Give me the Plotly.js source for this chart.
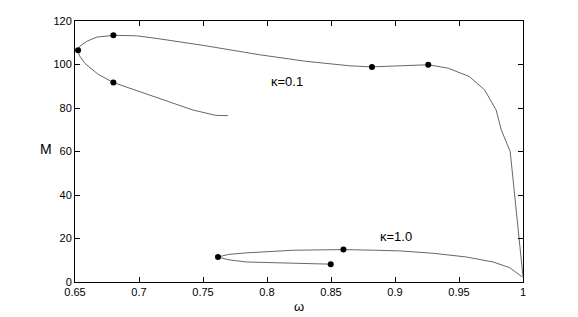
<!DOCTYPE html>
<html><head><meta charset="utf-8">
<script src="https://cdn.plot.ly/plotly-3.0.1.min.js"></script>
<style>html,body{margin:0;padding:0;background:#fff}</style>
</head><body><div id="chart" style="width:578px;height:317px"></div>
<script>
// kappa = 0.1 curve
var k01_w = [0.7695, 0.760, 0.742, 0.716, 0.695, 0.680, 0.668, 0.6576, 0.6535, 0.6524, 0.654, 0.659, 0.667, 0.680, 0.698, 0.716, 0.750, 0.794, 0.830, 0.8646, 0.882, 0.905, 0.926, 0.9415, 0.958, 0.970, 0.979, 0.983, 0.990, 1.000];
var k01_M = [76.5, 76.6, 79.1, 84.5, 88.5, 91.7, 95.5, 100.6, 104.0, 106.5, 108.5, 110.6, 112.6, 113.4, 113.2, 111.8, 108.8, 104.5, 101.5, 99.4, 98.9, 99.3, 99.9, 98.3, 94.5, 88.3, 79.1, 70.0, 60.0, 2.5];
var k01_dot_w = [0.6524, 0.680, 0.680, 0.882, 0.926];
var k01_dot_M = [106.5, 113.4, 91.7, 98.9, 99.9];
// kappa = 1.0 curve
var k10_w = [0.8498, 0.820, 0.784, 0.770, 0.7617, 0.770, 0.784, 0.820, 0.8597, 0.885, 0.9037, 0.930, 0.9558, 0.9766, 0.9896, 0.9995];
var k10_M = [8.2, 8.5, 9.2, 10.2, 11.5, 12.7, 13.4, 14.6, 14.9, 14.6, 14.3, 13.2, 11.5, 9.2, 6.6, 2.3];
var k10_dot_w = [0.7617, 0.8597, 0.8498];
var k10_dot_M = [11.5, 14.9, 8.2];
// ticks
var xTicks = [0.65, 0.7, 0.75, 0.8, 0.85, 0.9, 0.95, 1];
var xTickText = ["0.65", "0.7", "0.75", "0.8", "0.85", "0.9", "0.95", "1"];
var yTicks = [0, 20, 40, 60, 80, 100, 120];
var curveLabels = ["κ=0.1", "κ=1.0"];
var labelW = [0.8156, 0.9005];
var labelM = [92.1, 20.7];

var lineStyle = {color: '#555', width: 0.9};
var mk = {color: '#000', size: 6};
var data = [
  {x: k01_w, y: k01_M, mode: 'lines', line: lineStyle, hoverinfo: 'none'},
  {x: k10_w, y: k10_M, mode: 'lines', line: lineStyle, hoverinfo: 'none'},
  {x: k01_dot_w, y: k01_dot_M, mode: 'markers', marker: mk, hoverinfo: 'none'},
  {x: k10_dot_w, y: k10_dot_M, mode: 'markers', marker: mk, hoverinfo: 'none'}
];
var fam = 'Liberation Sans, Arial, sans-serif';
var font = {family: fam, size: 11, color: '#000'};
var annotations = curveLabels.map(function(t, i){
  return {x: labelW[i], y: labelM[i], xref: 'x', yref: 'y', text: t, showarrow: false, font: {family: fam, size: 13, color: '#000'}};
});
annotations.push({x: (46 - 75) / 448, y: (282 - 149) / 261, xref: 'paper', yref: 'paper', xanchor: 'center', yanchor: 'middle',
                  text: 'M', showarrow: false, font: {family: fam, size: 14, color: '#000'}});
var layout = {
  width: 578, height: 317,
  margin: {l: 75, r: 55, t: 21, b: 35},
  paper_bgcolor: '#fff', plot_bgcolor: '#fff',
  showlegend: false,
  font: font,
  xaxis: {range: [0.65, 1], tickvals: xTicks, ticktext: xTickText, ticks: 'inside', ticklen: 5, tickcolor: '#000',
          showline: true, linecolor: '#000', linewidth: 1, mirror: 'ticks', showgrid: false, zeroline: false,
          title: {text: 'ω', font: {family: fam, size: 13, color: '#000'}, standoff: 4}},
  yaxis: {range: [0, 120], tickvals: yTicks, ticks: 'inside', ticklen: 5, tickcolor: '#000',
          showline: true, linecolor: '#000', linewidth: 1, mirror: 'ticks', showgrid: false, zeroline: false},
  annotations: annotations
};
Plotly.newPlot('chart', data, layout, {displayModeBar: false, staticPlot: true});
</script></body></html>
